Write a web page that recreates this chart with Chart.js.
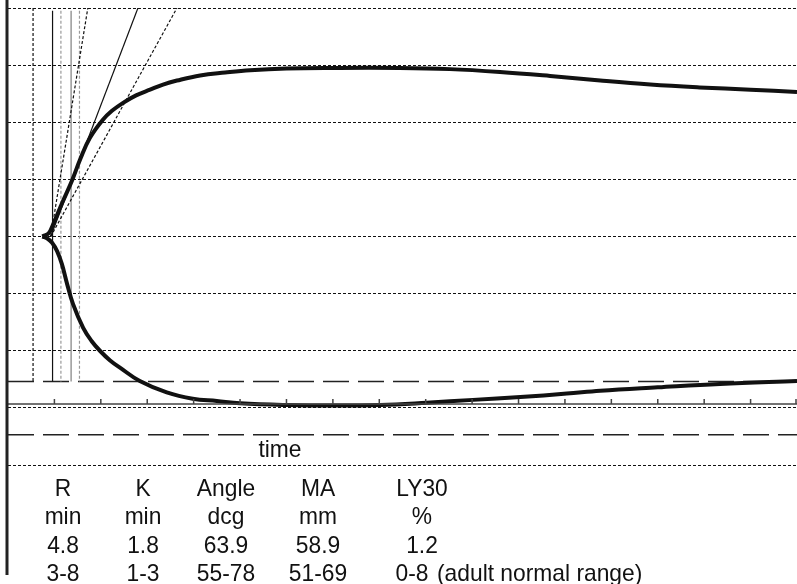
<!DOCTYPE html>
<html>
<head>
<meta charset="utf-8">
<script src="https://cdn.jsdelivr.net/npm/chart.js@4.4.0/dist/chart.umd.min.js"></script>
<style>
  html, body { margin: 0; padding: 0; background: #fff; }
  #wrap { width: 797px; height: 584px; }
</style>
</head>
<body>
<div id="wrap"><canvas id="teg" width="797" height="584"></canvas></div>
<script>
// ---------------------------------------------------------------------------
// Trace data: time in minutes, half amplitude in mm (upper / lower branch)
// ---------------------------------------------------------------------------
const upperTime = [3.7, 4.4, 4.85, 5.4, 5.95, 6.9, 7.8, 8.8, 10.2, 11.2, 12.4, 13.8, 15.3, 16.7, 18.2, 20.7, 23.4, 26.1, 30, 34.7, 42.2, 47.6, 53, 58.4, 63.8, 69.2, 74.5, 80, 85];
const upperMm = [0, 0.6, 2.1, 4.2, 6.3, 9.8, 13.6, 17.2, 20.4, 22.0, 23.4, 24.7, 25.7, 26.6, 27.3, 28.2, 28.7, 29.1, 29.4, 29.5, 29.5, 29.3, 28.8, 28.1, 27.3, 26.6, 26.1, 25.7, 25.3];

const lowerTime = [3.7, 4.2, 4.75, 5.3, 5.8, 6.35, 7.0, 8.1, 9.0, 9.9, 11.0, 12.1, 14.2, 17.1, 19.9, 22.5, 25.0, 30.1, 35.0, 40.1, 45.1, 50.1, 55.2, 60.2, 63.8, 70, 76.7, 85];
const lowerMm = [0, -0.3, -1.1, -2.6, -4.8, -8.2, -11.8, -16.0, -18.3, -20.0, -21.7, -23.0, -25.3, -27.3, -28.4, -28.8, -29.2, -29.5, -29.6, -29.5, -29.1, -28.6, -28.1, -27.5, -27.0, -26.4, -25.8, -25.3];

// vertical markers (minutes) and where they start at the top (mm)
const markerTime = [2.7, 4.8, 5.7, 6.8, 7.7];
const markerTop = [40, 39.5, 39.5, 39.5, 39.5];
const markerBottom = -25.4;

// angle lines: start point and where they hit the top gridline
const angleStart = [4.6, 0];
const angleEndTime = [8.6, 14.0, 18.2];
const angleEndMm = 40;

// long dashed reference levels (mm)
const refLevels = [-25.4, -34.7];

// time axis
const timeAxisLevel = -29.3;
const timeTicks = [5, 10, 15, 20, 25, 30, 35, 40, 45, 50, 55, 60, 65, 70, 75, 80, 85];

// result table
const paramNames = ["R", "K", "Angle", "MA", "LY30"];
const paramUnits = ["min", "min", "dcg", "mm", "%"];
const paramValues = ["4.8", "1.8", "63.9", "58.9", "1.2"];
const paramRanges = ["3-8", "1-3", "55-78", "51-69", "0-8"];
const rangeNote = "(adult normal range)";

// ---------------------------------------------------------------------------
// helpers
// ---------------------------------------------------------------------------
function toPoints(xs, ys) {
  return xs.map((x, i) => ({ x: x, y: ys[i] }));
}

function lineSet(points, color, width, dash, order) {
  return {
    data: points,
    borderColor: color,
    borderWidth: width,
    borderDash: dash,
    pointRadius: 0,
    fill: false,
    tension: 0,
    order: order,
  };
}

const datasets = [];

// trace branches (drawn on top)
const upper = lineSet(toPoints(upperTime, upperMm), "#111", 4, [], 0);
upper.tension = 0.4;
const lower = lineSet(toPoints(lowerTime, lowerMm), "#111", 4, [], 0);
lower.tension = 0.4;
datasets.push(upper, lower);

// vertical markers
const markerStyles = [
  { color: "#111", width: 1.2, dash: [3, 2] },
  { color: "#111", width: 1.2, dash: [] },
  { color: "#999", width: 1.2, dash: [3, 2] },
  { color: "#999", width: 1.5, dash: [] },
  { color: "#999", width: 1.2, dash: [3, 2] },
];
markerTime.forEach((t, i) => {
  const s = markerStyles[i];
  datasets.push(lineSet([{ x: t, y: markerTop[i] }, { x: t, y: markerBottom }], s.color, s.width, s.dash, 5));
});

// angle lines
const angleStyles = [[3, 2], [], [3, 2]];
angleEndTime.forEach((t, i) => {
  datasets.push(lineSet([{ x: angleStart[0], y: angleStart[1] }, { x: t, y: angleEndMm }], "#111", 1.2, angleStyles[i], 4));
});

// long dashed reference lines
refLevels.forEach((lvl) => {
  datasets.push(lineSet([{ x: 0, y: lvl }, { x: 85, y: lvl }], "#222", 1.5, [26, 9], 6));
});

// ---------------------------------------------------------------------------
// plugin: left border, time axis with ticks, labels and table
// ---------------------------------------------------------------------------
const decorPlugin = {
  id: "decor",
  afterDatasetsDraw(chart) {
    const ctx = chart.ctx;
    const xs = chart.scales.x;
    const ys = chart.scales.y;
    ctx.save();

    // time axis line + small ticks
    const ay = ys.getPixelForValue(timeAxisLevel);
    ctx.strokeStyle = "#444";
    ctx.lineWidth = 1.5;
    ctx.beginPath();
    ctx.moveTo(xs.left, ay);
    ctx.lineTo(xs.right, ay);
    timeTicks.forEach((t) => {
      const px = Math.min(xs.getPixelForValue(t), xs.right - 1);
      ctx.moveTo(px, ay);
      ctx.lineTo(px, ay - 5);
    });
    ctx.stroke();

    // thick left border
    ctx.strokeStyle = "#222";
    ctx.lineWidth = 3;
    ctx.beginPath();
    ctx.moveTo(7, 0);
    ctx.lineTo(7, 575);
    ctx.stroke();

    // texts
    ctx.fillStyle = "#111";
    ctx.textBaseline = "middle";

    function txt(s, x, y, align) {
      ctx.save();
      ctx.translate(x, y);
      ctx.scale(0.95, 1);
      ctx.textAlign = align || "center";
      ctx.fillText(s, 0, 0);
      ctx.restore();
    }

    ctx.font = "24px 'Liberation Sans', Arial, sans-serif";
    txt("time", 280, 450);

    const colX = [63, 143, 226, 318, 422];
    const rowY = [489, 517, 546, 574];
    [paramNames, paramUnits, paramValues].forEach((row, r) => {
      row.forEach((s, c) => txt(s, colX[c], rowY[r]));
    });
    paramRanges.forEach((s, c) => txt(s, c === 4 ? 412 : colX[c], rowY[3]));
    txt(rangeNote, 437, rowY[3], "left");

    ctx.restore();
  },
};

// ---------------------------------------------------------------------------
// chart
// ---------------------------------------------------------------------------
new Chart(document.getElementById("teg"), {
  type: "line",
  data: { datasets: datasets },
  options: {
    responsive: false,
    animation: false,
    layout: { padding: { left: 8, right: 0, top: 8, bottom: 119 } },
    plugins: { legend: { display: false }, tooltip: { enabled: false } },
    scales: {
      x: { type: "linear", min: 0, max: 85, display: false },
      y: {
        type: "linear",
        min: -40,
        max: 40,
        ticks: { display: false, stepSize: 10 },
        grid: { drawTicks: false, color: "#111", lineWidth: 1 },
        border: { display: false, dash: [3, 2] },
      },
    },
  },
  plugins: [decorPlugin],
});
</script>
</body>
</html>
